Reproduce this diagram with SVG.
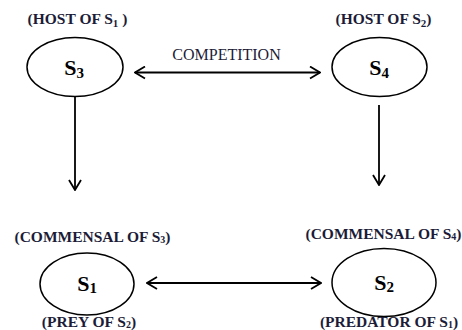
<svg xmlns="http://www.w3.org/2000/svg" width="462" height="330" viewBox="0 0 462 330">
<defs>
<marker id="ah" viewBox="0 0 12 14" refX="11" refY="7" markerWidth="12" markerHeight="14" markerUnits="userSpaceOnUse" orient="auto-start-reverse">
<path d="M1,1 L11,7 L1,13" fill="none" stroke="#000" stroke-width="1.8"/>
</marker>
<style>
.lbl{font-family:"Liberation Serif","Times New Roman",serif;font-weight:bold;fill:#1c1c38;text-anchor:middle}
.top{font-size:15.5px}
.bot{font-size:15.5px}
.sp{font-family:"Liberation Serif","Times New Roman",serif;font-weight:bold;font-size:22px;fill:#000;text-anchor:middle}
.ell{fill:#fff;stroke:#000;stroke-width:1.5}
.con{stroke:#000;stroke-width:1.8;fill:none;marker-end:url(#ah)}
.dbl{marker-start:url(#ah)}
.cap{font-family:"Liberation Serif","Times New Roman",serif;font-size:16px;fill:#1c1c38;text-anchor:middle}
</style>
</defs>
<rect width="462" height="330" fill="#fff"/>
<g id="connectors">
<line class="con dbl" x1="135" y1="72.5" x2="320" y2="72.5"/>
<text class="cap" x="226.5" y="60">COMPETITION</text>
<line class="con" x1="75" y1="97" x2="75" y2="190"/>
<line class="con" x1="379" y1="105" x2="379" y2="185"/>
<line class="con dbl" x1="147" y1="283" x2="321" y2="283"/>
</g>
<g id="S3">
<text class="lbl top" x="77.5" y="24">(HOST OF S<tspan font-size="11" dy="3">1</tspan><tspan dy="-3"> )</tspan></text>
<ellipse class="ell" cx="75" cy="67" rx="48" ry="29.5"/>
<text class="sp" x="74" y="75">S<tspan font-size="15" dy="3">3</tspan></text>
</g>
<g id="S4">
<text class="lbl top" x="383.5" y="24">(HOST OF S<tspan font-size="11" dy="3">2</tspan><tspan dy="-3">)</tspan></text>
<ellipse class="ell" cx="379.5" cy="67" rx="47.5" ry="29.5"/>
<text class="sp" x="379" y="75">S<tspan font-size="15" dy="3">4</tspan></text>
</g>
<g id="S1">
<text class="lbl bot" x="92.5" y="242">(COMMENSAL OF S<tspan font-size="10" dy="1">3</tspan><tspan dy="-1">)</tspan></text>
<ellipse class="ell" cx="87" cy="284" rx="47" ry="31"/>
<text class="sp" x="87" y="291">S<tspan font-size="15" dy="2">1</tspan></text>
<text class="lbl bot" x="89" y="327">(PREY OF S<tspan font-size="10" dy="1">2</tspan><tspan dy="-1">)</tspan></text>
</g>
<g id="S2">
<text class="lbl bot" x="383.5" y="239">(COMMENSAL OF S<tspan font-size="10" dy="1">4</tspan><tspan dy="-1">)</tspan></text>
<ellipse class="ell" cx="384" cy="282.5" rx="52" ry="34"/>
<text class="sp" x="384" y="290">S<tspan font-size="15" dy="2">2</tspan></text>
<text class="lbl bot" x="389" y="327">(PREDATOR OF S<tspan font-size="10" dy="1">1</tspan><tspan dy="-1">)</tspan></text>
</g>
</svg>
